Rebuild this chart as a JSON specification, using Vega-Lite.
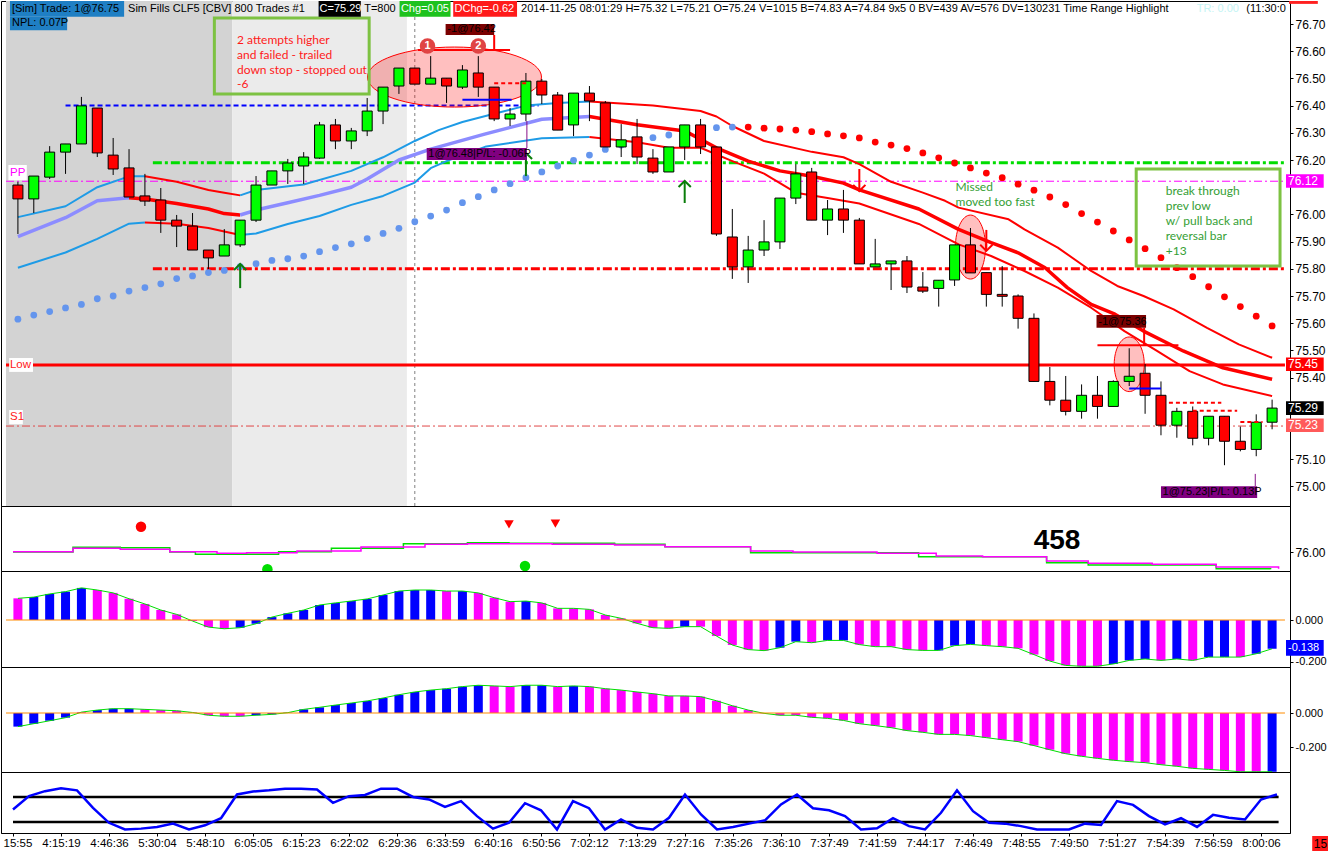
{
  "$schema": "https://vega.github.io/schema/vega-lite/v6.json",
  "background": "#ffffff",
  "padding": 0,
  "autosize": {"type": "pad"},
  "bounds": "flush",
  "spacing": 0,
  "config": {
    "view": {"stroke": "#000000", "strokeWidth": 1},
    "axis": {
      "grid": false,
      "title": null,
      "labelFont": "Liberation Sans",
      "labelFontSize": 11.5,
      "labelColor": "#000000",
      "tickColor": "#000000",
      "domainColor": "#000000",
      "tickSize": 3,
      "labelPadding": 2
    },
    "text": {"font": "Liberation Sans"}
  },
  "datasets": {
    "bars": [
      {"i":0,"o":76.108,"h":76.12,"l":75.928,"c":76.057},
      {"i":1,"o":76.057,"h":76.141,"l":76.005,"c":76.141},
      {"i":2,"o":76.137,"h":76.251,"l":76.13,"c":76.229},
      {"i":3,"o":76.229,"h":76.259,"l":76.149,"c":76.259},
      {"i":4,"o":76.259,"h":76.432,"l":76.259,"c":76.399},
      {"i":5,"o":76.391,"h":76.391,"l":76.211,"c":76.226},
      {"i":6,"o":76.218,"h":76.281,"l":76.145,"c":76.167},
      {"i":7,"o":76.171,"h":76.24,"l":76.064,"c":76.064},
      {"i":8,"o":76.068,"h":76.149,"l":76.031,"c":76.049},
      {"i":9,"o":76.053,"h":76.097,"l":75.932,"c":75.979},
      {"i":10,"o":75.979,"h":75.998,"l":75.88,"c":75.957},
      {"i":11,"o":75.957,"h":76.005,"l":75.869,"c":75.869},
      {"i":12,"o":75.869,"h":75.869,"l":75.799,"c":75.84},
      {"i":13,"o":75.847,"h":75.946,"l":75.847,"c":75.888},
      {"i":14,"o":75.888,"h":75.979,"l":75.88,"c":75.979},
      {"i":15,"o":75.979,"h":76.141,"l":75.972,"c":76.108},
      {"i":16,"o":76.108,"h":76.16,"l":76.108,"c":76.16},
      {"i":17,"o":76.16,"h":76.204,"l":76.112,"c":76.189},
      {"i":18,"o":76.178,"h":76.229,"l":76.112,"c":76.211},
      {"i":19,"o":76.207,"h":76.34,"l":76.204,"c":76.329},
      {"i":20,"o":76.329,"h":76.351,"l":76.24,"c":76.27},
      {"i":21,"o":76.27,"h":76.318,"l":76.24,"c":76.307},
      {"i":22,"o":76.307,"h":76.428,"l":76.288,"c":76.38},
      {"i":23,"o":76.38,"h":76.468,"l":76.332,"c":76.468},
      {"i":24,"o":76.472,"h":76.538,"l":76.443,"c":76.538},
      {"i":25,"o":76.538,"h":76.538,"l":76.479,"c":76.479},
      {"i":26,"o":76.479,"h":76.582,"l":76.479,"c":76.501},
      {"i":27,"o":76.501,"h":76.501,"l":76.41,"c":76.472},
      {"i":28,"o":76.468,"h":76.549,"l":76.461,"c":76.531},
      {"i":29,"o":76.52,"h":76.582,"l":76.432,"c":76.468},
      {"i":30,"o":76.468,"h":76.468,"l":76.343,"c":76.351},
      {"i":31,"o":76.351,"h":76.391,"l":76.325,"c":76.369},
      {"i":32,"o":76.369,"h":76.52,"l":76.343,"c":76.49},
      {"i":33,"o":76.49,"h":76.498,"l":76.406,"c":76.439},
      {"i":34,"o":76.439,"h":76.45,"l":76.31,"c":76.31},
      {"i":35,"o":76.329,"h":76.446,"l":76.288,"c":76.446},
      {"i":36,"o":76.446,"h":76.472,"l":76.343,"c":76.417},
      {"i":37,"o":76.41,"h":76.417,"l":76.248,"c":76.248},
      {"i":38,"o":76.248,"h":76.332,"l":76.211,"c":76.274},
      {"i":39,"o":76.285,"h":76.351,"l":76.185,"c":76.211},
      {"i":40,"o":76.207,"h":76.24,"l":76.149,"c":76.156},
      {"i":41,"o":76.156,"h":76.248,"l":76.156,"c":76.248},
      {"i":42,"o":76.248,"h":76.329,"l":76.2,"c":76.329},
      {"i":43,"o":76.329,"h":76.351,"l":76.222,"c":76.248},
      {"i":44,"o":76.248,"h":76.248,"l":75.921,"c":75.928},
      {"i":45,"o":75.917,"h":76.02,"l":75.763,"c":75.807},
      {"i":46,"o":75.807,"h":75.921,"l":75.748,"c":75.869},
      {"i":47,"o":75.869,"h":75.979,"l":75.847,"c":75.899},
      {"i":48,"o":75.899,"h":76.06,"l":75.873,"c":76.06},
      {"i":49,"o":76.06,"h":76.185,"l":76.038,"c":76.149},
      {"i":50,"o":76.156,"h":76.171,"l":75.979,"c":75.979},
      {"i":51,"o":75.979,"h":76.053,"l":75.924,"c":76.02},
      {"i":52,"o":76.02,"h":76.09,"l":75.932,"c":75.979},
      {"i":53,"o":75.979,"h":75.987,"l":75.818,"c":75.818},
      {"i":54,"o":75.807,"h":75.91,"l":75.807,"c":75.818},
      {"i":55,"o":75.818,"h":75.829,"l":75.722,"c":75.829},
      {"i":56,"o":75.829,"h":75.847,"l":75.711,"c":75.733},
      {"i":57,"o":75.733,"h":75.788,"l":75.711,"c":75.718},
      {"i":58,"o":75.728,"h":75.758,"l":75.661,"c":75.758},
      {"i":59,"o":75.759,"h":75.888,"l":75.737,"c":75.888},
      {"i":60,"o":75.888,"h":75.95,"l":75.785,"c":75.785},
      {"i":61,"o":75.786,"h":75.786,"l":75.661,"c":75.706},
      {"i":62,"o":75.706,"h":75.81,"l":75.661,"c":75.699},
      {"i":63,"o":75.7,"h":75.706,"l":75.58,"c":75.618},
      {"i":64,"o":75.618,"h":75.636,"l":75.386,"c":75.386},
      {"i":65,"o":75.386,"h":75.439,"l":75.298,"c":75.317},
      {"i":66,"o":75.317,"h":75.406,"l":75.261,"c":75.276},
      {"i":67,"o":75.276,"h":75.375,"l":75.249,"c":75.335},
      {"i":68,"o":75.335,"h":75.406,"l":75.249,"c":75.294},
      {"i":69,"o":75.294,"h":75.39,"l":75.294,"c":75.386},
      {"i":70,"o":75.386,"h":75.508,"l":75.369,"c":75.405},
      {"i":71,"o":75.416,"h":75.45,"l":75.267,"c":75.335},
      {"i":72,"o":75.335,"h":75.386,"l":75.188,"c":75.225},
      {"i":73,"o":75.225,"h":75.289,"l":75.179,"c":75.276},
      {"i":74,"o":75.276,"h":75.294,"l":75.151,"c":75.177},
      {"i":75,"o":75.177,"h":75.258,"l":75.151,"c":75.258},
      {"i":76,"o":75.258,"h":75.258,"l":75.078,"c":75.166},
      {"i":77,"o":75.166,"h":75.22,"l":75.129,"c":75.136},
      {"i":78,"o":75.136,"h":75.265,"l":75.111,"c":75.236},
      {"i":79,"o":75.236,"h":75.319,"l":75.21,"c":75.288}
    ],
    "bands": [
      {"seg":"U1","i":0,"v":75.99},{"seg":"U1","i":3,"v":76.03},{"seg":"U1","i":5,"v":76.1},{"seg":"U1","i":7,"v":76.14},{"seg":"U1","i":8,"v":76.14},
      {"seg":"U2","i":8,"v":76.14},{"seg":"U2","i":10,"v":76.12},{"seg":"U2","i":12,"v":76.09},{"seg":"U2","i":13,"v":76.08},{"seg":"U2","i":14,"v":76.07},
      {"seg":"U3","i":14,"v":76.07},{"seg":"U3","i":15,"v":76.09},{"seg":"U3","i":18,"v":76.11},{"seg":"U3","i":21,"v":76.16},{"seg":"U3","i":23,"v":76.21},{"seg":"U3","i":25,"v":76.27},{"seg":"U3","i":26.5,"v":76.31},{"seg":"U3","i":28,"v":76.34},{"seg":"U3","i":30,"v":76.37},{"seg":"U3","i":32,"v":76.4},{"seg":"U3","i":34,"v":76.41},{"seg":"U3","i":36,"v":76.415},
      {"seg":"U4","i":36,"v":76.415},{"seg":"U4","i":40,"v":76.4},{"seg":"U4","i":43,"v":76.38},{"seg":"U4","i":44,"v":76.36},{"seg":"U4","i":45,"v":76.325},{"seg":"U4","i":47,"v":76.27},{"seg":"U4","i":50,"v":76.23},{"seg":"U4","i":52,"v":76.21},{"seg":"U4","i":53,"v":76.185},{"seg":"U4","i":55,"v":76.12},{"seg":"U4","i":57,"v":76.08},{"seg":"U4","i":58.4,"v":76.05},{"seg":"U4","i":59.25,"v":76.025},{"seg":"U4","i":62.4,"v":75.982},{"seg":"U4","i":63.4,"v":75.945},{"seg":"U4","i":65.5,"v":75.878},{"seg":"U4","i":67.6,"v":75.792},{"seg":"U4","i":69.25,"v":75.737},{"seg":"U4","i":70.9,"v":75.7},{"seg":"U4","i":72.8,"v":75.651},{"seg":"U4","i":74.9,"v":75.583},{"seg":"U4","i":76.9,"v":75.522},{"seg":"U4","i":79,"v":75.473},
      {"seg":"M1","i":0,"v":75.918},{"seg":"M1","i":3,"v":75.988},{"seg":"M1","i":5,"v":76.05},{"seg":"M1","i":7,"v":76.061},
      {"seg":"M2","i":7,"v":76.061},{"seg":"M2","i":8,"v":76.057},{"seg":"M2","i":10,"v":76.04},{"seg":"M2","i":12,"v":76.02},{"seg":"M2","i":13,"v":76.003},{"seg":"M2","i":14,"v":75.998},
      {"seg":"M3","i":14,"v":75.998},{"seg":"M3","i":15,"v":76.016},{"seg":"M3","i":17,"v":76.043},{"seg":"M3","i":19,"v":76.07},{"seg":"M3","i":21,"v":76.1},{"seg":"M3","i":22,"v":76.13},{"seg":"M3","i":24,"v":76.2},{"seg":"M3","i":26,"v":76.24},{"seg":"M3","i":29.4,"v":76.295},{"seg":"M3","i":33,"v":76.35},{"seg":"M3","i":36,"v":76.36},
      {"seg":"M4","i":36,"v":76.36},{"seg":"M4","i":39,"v":76.33},{"seg":"M4","i":42,"v":76.307},{"seg":"M4","i":44,"v":76.245},{"seg":"M4","i":46,"v":76.196},{"seg":"M4","i":48,"v":76.16},{"seg":"M4","i":50,"v":76.14},{"seg":"M4","i":52,"v":76.115},{"seg":"M4","i":53,"v":76.09},{"seg":"M4","i":56.75,"v":76.02},{"seg":"M4","i":59.25,"v":75.945},{"seg":"M4","i":61.3,"v":75.896},{"seg":"M4","i":63,"v":75.859},{"seg":"M4","i":64.7,"v":75.804},{"seg":"M4","i":66.1,"v":75.731},{"seg":"M4","i":67.6,"v":75.669},{"seg":"M4","i":69.1,"v":75.633},{"seg":"M4","i":70.9,"v":75.571},{"seg":"M4","i":73.4,"v":75.498},{"seg":"M4","i":75.9,"v":75.436},{"seg":"M4","i":79,"v":75.394},
      {"seg":"L1","i":0,"v":75.804},{"seg":"L1","i":3,"v":75.86},{"seg":"L1","i":5,"v":75.91},{"seg":"L1","i":7,"v":75.966},{"seg":"L1","i":8,"v":75.97},
      {"seg":"L2","i":8,"v":75.97},{"seg":"L2","i":10,"v":75.966},{"seg":"L2","i":12,"v":75.95},{"seg":"L2","i":14,"v":75.924},
      {"seg":"L3","i":14,"v":75.924},{"seg":"L3","i":15,"v":75.93},{"seg":"L3","i":17,"v":75.965},{"seg":"L3","i":19,"v":75.994},{"seg":"L3","i":21,"v":76.035},{"seg":"L3","i":23,"v":76.068},{"seg":"L3","i":25,"v":76.117},{"seg":"L3","i":26,"v":76.17},{"seg":"L3","i":27,"v":76.196},{"seg":"L3","i":29.5,"v":76.25},{"seg":"L3","i":33,"v":76.28},{"seg":"L3","i":36,"v":76.285},
      {"seg":"L4","i":36,"v":76.285},{"seg":"L4","i":39,"v":76.265},{"seg":"L4","i":41,"v":76.245},{"seg":"L4","i":43,"v":76.245},{"seg":"L4","i":45,"v":76.196},{"seg":"L4","i":47,"v":76.15},{"seg":"L4","i":49,"v":76.08},{"seg":"L4","i":51,"v":76.06},{"seg":"L4","i":53,"v":76.04},{"seg":"L4","i":56.75,"v":75.965},{"seg":"L4","i":59.25,"v":75.89},{"seg":"L4","i":61.3,"v":75.847},{"seg":"L4","i":63.4,"v":75.792},{"seg":"L4","i":65.5,"v":75.731},{"seg":"L4","i":67.6,"v":75.657},{"seg":"L4","i":69.7,"v":75.571},{"seg":"L4","i":71.75,"v":75.498},{"seg":"L4","i":73.8,"v":75.424},{"seg":"L4","i":75.9,"v":75.375},{"seg":"L4","i":79,"v":75.332}
    ],
    "sar": [
      {"i":0,"v":75.615,"side":"long"},{"i":1,"v":75.63,"side":"long"},{"i":2,"v":75.643,"side":"long"},{"i":3,"v":75.656,"side":"long"},{"i":4,"v":75.669,"side":"long"},{"i":5,"v":75.69,"side":"long"},{"i":6,"v":75.7,"side":"long"},{"i":7,"v":75.718,"side":"long"},{"i":8,"v":75.731,"side":"long"},{"i":9,"v":75.745,"side":"long"},
      {"i":10,"v":75.764,"side":"long"},{"i":11,"v":75.774,"side":"long"},{"i":12,"v":75.786,"side":"long"},{"i":13,"v":75.794,"side":"long"},{"i":14,"v":75.808,"side":"long"},{"i":15,"v":75.819,"side":"long"},{"i":16,"v":75.831,"side":"long"},{"i":17,"v":75.837,"side":"long"},{"i":18,"v":75.847,"side":"long"},{"i":19,"v":75.863,"side":"long"},
      {"i":20,"v":75.878,"side":"long"},{"i":21,"v":75.892,"side":"long"},{"i":22,"v":75.911,"side":"long"},{"i":23,"v":75.93,"side":"long"},{"i":24,"v":75.949,"side":"long"},{"i":25,"v":75.973,"side":"long"},{"i":26,"v":75.994,"side":"long"},{"i":27,"v":76.016,"side":"long"},{"i":28,"v":76.043,"side":"long"},{"i":29,"v":76.065,"side":"long"},
      {"i":30,"v":76.09,"side":"long"},{"i":31,"v":76.113,"side":"long"},{"i":32,"v":76.135,"side":"long"},{"i":33,"v":76.156,"side":"long"},{"i":34,"v":76.178,"side":"long"},{"i":35,"v":76.199,"side":"long"},{"i":36,"v":76.218,"side":"long"},{"i":37,"v":76.239,"side":"long"},{"i":38,"v":76.255,"side":"long"},{"i":39,"v":76.267,"side":"long"},
      {"i":40,"v":76.282,"side":"long"},{"i":41,"v":76.292,"side":"long"},{"i":42,"v":76.307,"side":"long"},{"i":43,"v":76.317,"side":"long"},{"i":44,"v":76.319,"side":"long"},{"i":45,"v":76.321,"side":"long"},
      {"i":46,"v":76.321,"side":"short"},{"i":47,"v":76.317,"side":"short"},{"i":48,"v":76.314,"side":"short"},{"i":49,"v":76.31,"side":"short"},{"i":50,"v":76.304,"side":"short"},{"i":51,"v":76.296,"side":"short"},{"i":52,"v":76.289,"side":"short"},{"i":53,"v":76.281,"side":"short"},{"i":54,"v":76.266,"side":"short"},{"i":55,"v":76.255,"side":"short"},
      {"i":56,"v":76.242,"side":"short"},{"i":57,"v":76.226,"side":"short"},{"i":58,"v":76.208,"side":"short"},{"i":59,"v":76.189,"side":"short"},{"i":60,"v":76.171,"side":"short"},{"i":61,"v":76.152,"side":"short"},{"i":62,"v":76.135,"side":"short"},{"i":63,"v":76.111,"side":"short"},{"i":64,"v":76.089,"side":"short"},{"i":65,"v":76.064,"side":"short"},
      {"i":66,"v":76.036,"side":"short"},{"i":67,"v":76.003,"side":"short"},{"i":68,"v":75.972,"side":"short"},{"i":69,"v":75.939,"side":"short"},{"i":70,"v":75.906,"side":"short"},{"i":71,"v":75.874,"side":"short"},{"i":72,"v":75.841,"side":"short"},{"i":73,"v":75.804,"side":"short"},{"i":74,"v":75.771,"side":"short"},{"i":75,"v":75.734,"side":"short"},
      {"i":76,"v":75.697,"side":"short"},{"i":77,"v":75.661,"side":"short"},{"i":78,"v":75.626,"side":"short"},{"i":79,"v":75.59,"side":"short"}
    ],
    "ma": [
      {"ma":"slow","i":0,"v":76.0},{"ma":"slow","i":3.75,"v":76.047},{"ma":"slow","i":6.7,"v":76.043},{"ma":"slow","i":9.8,"v":76.0},{"ma":"slow","i":11.4,"v":75.977},{"ma":"slow","i":13.8,"v":75.977},{"ma":"slow","i":16.6,"v":76.003},{"ma":"slow","i":19.9,"v":76.037},{"ma":"slow","i":24.4,"v":76.083},{"ma":"slow","i":28.4,"v":76.093},{"ma":"slow","i":31,"v":76.087},{"ma":"slow","i":37.6,"v":76.077},{"ma":"slow","i":40.75,"v":76.053},{"ma":"slow","i":46.1,"v":75.993},{"ma":"slow","i":56.6,"v":75.953},{"ma":"slow","i":64.6,"v":75.893},{"ma":"slow","i":67.2,"v":75.87},{"ma":"slow","i":75.2,"v":75.833},{"ma":"slow","i":78.6,"v":75.827},
      {"ma":"fast","i":0,"v":76.003},{"ma":"fast","i":3.75,"v":76.037},{"ma":"fast","i":6.7,"v":76.027},{"ma":"fast","i":9.8,"v":76.003},{"ma":"fast","i":12.75,"v":75.987},{"ma":"fast","i":14.6,"v":75.993},{"ma":"fast","i":17.75,"v":76.01},{"ma":"fast","i":21.75,"v":76.05},{"ma":"fast","i":25.75,"v":76.077},{"ma":"fast","i":28.4,"v":76.083},{"ma":"fast","i":31,"v":76.083},{"ma":"fast","i":33.7,"v":76.077},{"ma":"fast","i":37.6,"v":76.07},{"ma":"fast","i":40.75,"v":76.053},{"ma":"fast","i":43.4,"v":76.053},{"ma":"fast","i":46.1,"v":76.01},{"ma":"fast","i":48.75,"v":76.0},{"ma":"fast","i":51.3,"v":76.0},{"ma":"fast","i":54,"v":75.987},{"ma":"fast","i":57.7,"v":75.96},{"ma":"fast","i":60.6,"v":75.953},{"ma":"fast","i":64.6,"v":75.91},{"ma":"fast","i":67.2,"v":75.887},{"ma":"fast","i":71.2,"v":75.877},{"ma":"fast","i":75.2,"v":75.85},{"ma":"fast","i":79.1,"v":75.833}
    ],
    "h3": [
      {"i":0,"v":0.104,"grp":"dn"},{"i":1,"v":0.11,"grp":"up"},{"i":2,"v":0.125,"grp":"up"},{"i":3,"v":0.136,"grp":"up"},{"i":4,"v":0.154,"grp":"up"},{"i":5,"v":0.144,"grp":"dn"},{"i":6,"v":0.13,"grp":"dn"},{"i":7,"v":0.102,"grp":"dn"},{"i":8,"v":0.077,"grp":"dn"},{"i":9,"v":0.048,"grp":"dn"},
      {"i":10,"v":0.027,"grp":"dn"},{"i":11,"v":-0.005,"grp":"dn"},{"i":12,"v":-0.034,"grp":"dn"},{"i":13,"v":-0.042,"grp":"dn"},{"i":14,"v":-0.037,"grp":"up"},{"i":15,"v":-0.018,"grp":"up"},{"i":16,"v":0.014,"grp":"up"},{"i":17,"v":0.032,"grp":"up"},{"i":18,"v":0.048,"grp":"up"},{"i":19,"v":0.072,"grp":"up"},
      {"i":20,"v":0.082,"grp":"up"},{"i":21,"v":0.091,"grp":"up"},{"i":22,"v":0.101,"grp":"up"},{"i":23,"v":0.12,"grp":"up"},{"i":24,"v":0.139,"grp":"up"},{"i":25,"v":0.144,"grp":"up"},{"i":26,"v":0.144,"grp":"up"},{"i":27,"v":0.139,"grp":"dn"},{"i":28,"v":0.139,"grp":"up"},{"i":29,"v":0.13,"grp":"dn"},
      {"i":30,"v":0.107,"grp":"dn"},{"i":31,"v":0.088,"grp":"dn"},{"i":32,"v":0.091,"grp":"up"},{"i":33,"v":0.082,"grp":"dn"},{"i":34,"v":0.056,"grp":"dn"},{"i":35,"v":0.056,"grp":"dn"},{"i":36,"v":0.051,"grp":"dn"},{"i":37,"v":0.024,"grp":"dn"},{"i":38,"v":0.008,"grp":"dn"},{"i":39,"v":-0.016,"grp":"dn"},
      {"i":40,"v":-0.037,"grp":"dn"},{"i":41,"v":-0.04,"grp":"dn"},{"i":42,"v":-0.032,"grp":"up"},{"i":43,"v":-0.032,"grp":"dn"},{"i":44,"v":-0.077,"grp":"dn"},{"i":45,"v":-0.12,"grp":"dn"},{"i":46,"v":-0.142,"grp":"dn"},{"i":47,"v":-0.147,"grp":"dn"},{"i":48,"v":-0.133,"grp":"up"},{"i":49,"v":-0.104,"grp":"up"},
      {"i":50,"v":-0.109,"grp":"dn"},{"i":51,"v":-0.098,"grp":"up"},{"i":52,"v":-0.098,"grp":"up"},{"i":53,"v":-0.118,"grp":"dn"},{"i":54,"v":-0.128,"grp":"dn"},{"i":55,"v":-0.128,"grp":"dn"},{"i":56,"v":-0.142,"grp":"dn"},{"i":57,"v":-0.146,"grp":"dn"},{"i":58,"v":-0.146,"grp":"up"},{"i":59,"v":-0.123,"grp":"up"},
      {"i":60,"v":-0.117,"grp":"up"},{"i":61,"v":-0.123,"grp":"dn"},{"i":62,"v":-0.128,"grp":"dn"},{"i":63,"v":-0.136,"grp":"dn"},{"i":64,"v":-0.166,"grp":"dn"},{"i":65,"v":-0.197,"grp":"dn"},{"i":66,"v":-0.218,"grp":"dn"},{"i":67,"v":-0.222,"grp":"dn"},{"i":68,"v":-0.222,"grp":"dn"},{"i":69,"v":-0.211,"grp":"up"},
      {"i":70,"v":-0.194,"grp":"up"},{"i":71,"v":-0.187,"grp":"up"},{"i":72,"v":-0.194,"grp":"dn"},{"i":73,"v":-0.187,"grp":"up"},{"i":74,"v":-0.194,"grp":"dn"},{"i":75,"v":-0.178,"grp":"up"},{"i":76,"v":-0.178,"grp":"up"},{"i":77,"v":-0.178,"grp":"dn"},{"i":78,"v":-0.162,"grp":"up"},{"i":79,"v":-0.138,"grp":"up"}
    ],
    "h4": [
      {"i":0,"v":-0.079,"grp":"up"},{"i":1,"v":-0.062,"grp":"up"},{"i":2,"v":-0.045,"grp":"up"},{"i":3,"v":-0.027,"grp":"up"},{"i":4,"v":0.005,"grp":"dn"},{"i":5,"v":0.017,"grp":"up"},{"i":6,"v":0.025,"grp":"up"},{"i":7,"v":0.025,"grp":"up"},{"i":8,"v":0.021,"grp":"dn"},{"i":9,"v":0.017,"grp":"dn"},
      {"i":10,"v":0.013,"grp":"dn"},{"i":11,"v":0.003,"grp":"dn"},{"i":12,"v":-0.013,"grp":"dn"},{"i":13,"v":-0.019,"grp":"dn"},{"i":14,"v":-0.019,"grp":"dn"},{"i":15,"v":-0.013,"grp":"up"},{"i":16,"v":-0.008,"grp":"up"},{"i":17,"v":0.002,"grp":"up"},{"i":18,"v":0.021,"grp":"up"},{"i":19,"v":0.033,"grp":"up"},
      {"i":20,"v":0.046,"grp":"up"},{"i":21,"v":0.058,"grp":"up"},{"i":22,"v":0.07,"grp":"up"},{"i":23,"v":0.087,"grp":"up"},{"i":24,"v":0.106,"grp":"up"},{"i":25,"v":0.122,"grp":"up"},{"i":26,"v":0.133,"grp":"up"},{"i":27,"v":0.141,"grp":"up"},{"i":28,"v":0.153,"grp":"up"},{"i":29,"v":0.161,"grp":"up"},
      {"i":30,"v":0.157,"grp":"dn"},{"i":31,"v":0.153,"grp":"dn"},{"i":32,"v":0.161,"grp":"up"},{"i":33,"v":0.161,"grp":"up"},{"i":34,"v":0.153,"grp":"dn"},{"i":35,"v":0.157,"grp":"up"},{"i":36,"v":0.153,"grp":"dn"},{"i":37,"v":0.141,"grp":"dn"},{"i":38,"v":0.133,"grp":"dn"},{"i":39,"v":0.122,"grp":"dn"},
      {"i":40,"v":0.112,"grp":"dn"},{"i":41,"v":0.099,"grp":"dn"},{"i":42,"v":0.099,"grp":"dn"},{"i":43,"v":0.095,"grp":"dn"},{"i":44,"v":0.071,"grp":"dn"},{"i":45,"v":0.042,"grp":"dn"},{"i":46,"v":0.017,"grp":"dn"},{"i":47,"v":-0.002,"grp":"dn"},{"i":48,"v":-0.013,"grp":"dn"},{"i":49,"v":-0.013,"grp":"dn"},
      {"i":50,"v":-0.025,"grp":"dn"},{"i":51,"v":-0.031,"grp":"dn"},{"i":52,"v":-0.043,"grp":"dn"},{"i":53,"v":-0.062,"grp":"dn"},{"i":54,"v":-0.073,"grp":"dn"},{"i":55,"v":-0.085,"grp":"dn"},{"i":56,"v":-0.102,"grp":"dn"},{"i":57,"v":-0.112,"grp":"dn"},{"i":58,"v":-0.124,"grp":"dn"},{"i":59,"v":-0.124,"grp":"dn"},
      {"i":60,"v":-0.131,"grp":"dn"},{"i":61,"v":-0.143,"grp":"dn"},{"i":62,"v":-0.155,"grp":"dn"},{"i":63,"v":-0.166,"grp":"dn"},{"i":64,"v":-0.189,"grp":"dn"},{"i":65,"v":-0.213,"grp":"dn"},{"i":66,"v":-0.236,"grp":"dn"},{"i":67,"v":-0.251,"grp":"dn"},{"i":68,"v":-0.263,"grp":"dn"},{"i":69,"v":-0.274,"grp":"dn"},
      {"i":70,"v":-0.282,"grp":"dn"},{"i":71,"v":-0.288,"grp":"dn"},{"i":72,"v":-0.3,"grp":"dn"},{"i":73,"v":-0.309,"grp":"dn"},{"i":74,"v":-0.321,"grp":"dn"},{"i":75,"v":-0.327,"grp":"dn"},{"i":76,"v":-0.333,"grp":"dn"},{"i":77,"v":-0.341,"grp":"dn"},{"i":78,"v":-0.341,"grp":"dn"},{"i":79,"v":-0.341,"grp":"up"}
    ],
    "st": [
      {"i":0,"v":50},{"i":1,"v":82},{"i":2,"v":94},{"i":3,"v":101},{"i":4,"v":96},{"i":5,"v":54},{"i":6,"v":18},{"i":7,"v":2},{"i":8,"v":4},{"i":9,"v":8},
      {"i":10,"v":16},{"i":11,"v":2},{"i":12,"v":12},{"i":13,"v":29},{"i":14,"v":86},{"i":15,"v":93},{"i":16,"v":96},{"i":17,"v":100},{"i":18,"v":100},{"i":19,"v":98},
      {"i":20,"v":66},{"i":21,"v":82},{"i":22,"v":85},{"i":23,"v":100},{"i":24,"v":100},{"i":25,"v":80},{"i":26,"v":74},{"i":27,"v":56},{"i":28,"v":70},{"i":29,"v":34},
      {"i":30,"v":4},{"i":31,"v":18},{"i":32,"v":65},{"i":33,"v":48},{"i":34,"v":2},{"i":35,"v":70},{"i":36,"v":53},{"i":37,"v":2},{"i":38,"v":26},{"i":39,"v":6},
      {"i":40,"v":2},{"i":41,"v":30},{"i":42,"v":86},{"i":43,"v":38},{"i":44,"v":2},{"i":45,"v":8},{"i":46,"v":16},{"i":47,"v":24},{"i":48,"v":62},{"i":49,"v":86},
      {"i":50,"v":53},{"i":51,"v":48},{"i":52,"v":34},{"i":53,"v":2},{"i":54,"v":5},{"i":55,"v":29},{"i":56,"v":10},{"i":57,"v":2},{"i":58,"v":42},{"i":59,"v":96},
      {"i":60,"v":46},{"i":61,"v":18},{"i":62,"v":16},{"i":63,"v":10},{"i":64,"v":2},{"i":65,"v":2},{"i":66,"v":2},{"i":67,"v":16},{"i":68,"v":13},{"i":69,"v":70},
      {"i":70,"v":61},{"i":71,"v":34},{"i":72,"v":14},{"i":73,"v":29},{"i":74,"v":8},{"i":75,"v":37},{"i":76,"v":30},{"i":77,"v":26},{"i":78,"v":74},{"i":79,"v":86}
    ]
  },
  "vconcat": [
    {
      "width": 1289,
      "height": 505,
      "resolve": {"scale": {"color": "independent", "strokeDash": "independent", "shape": "independent"}},
      "encoding": {
        "x": {"field": "i", "type": "quantitative", "scale": {"domain": [-0.75, 79.8125], "nice": false, "zero": false}, "axis": null},
        "y": {"field": "v", "type": "quantitative", "scale": {"domain": [74.928, 76.7846], "nice": false, "zero": false},
          "axis": {"orient": "right", "format": ".2f", "labelFontSize": 12, "values": [75.0, 75.1, 75.4, 75.5, 75.6, 75.7, 75.8, 75.9, 76.0, 76.2, 76.3, 76.4, 76.5, 76.6, 76.7]}}
      },
      "layer": [
        {
          "data": {"values": [
            {"zone": "pre", "i": -0.75, "i2": 13.5, "v": 74.928, "v2": 76.7846},
            {"zone": "open", "i": 13.5, "i2": 24.5, "v": 74.928, "v2": 76.7846}
          ]},
          "mark": {"type": "rect"},
          "encoding": {
            "x2": {"field": "i2"},
            "y2": {"field": "v2"},
            "color": {"field": "zone", "type": "nominal", "scale": {"domain": ["pre", "open"], "range": ["#d3d3d3", "#ebebeb"]}, "legend": null}
          }
        },
        {
          "data": {"values": [{"i": 25, "v": 74.928, "v2": 76.7846}]},
          "mark": {"type": "rule", "color": "#808080", "strokeDash": [3, 3], "strokeWidth": 1},
          "encoding": {"y2": {"field": "v2"}}
        },
        {
          "data": {"values": [
            {"lvl": "entry", "i": 3, "i2": 32.8, "v": 76.4},
            {"lvl": "r1", "i": 8.5, "i2": 79.81, "v": 76.19},
            {"lvl": "pp", "i": -0.75, "i2": 79.81, "v": 76.122},
            {"lvl": "s1a", "i": 8.5, "i2": 79.81, "v": 75.8},
            {"lvl": "low", "i": -0.75, "i2": 79.81, "v": 75.446},
            {"lvl": "s1", "i": -0.75, "i2": 79.81, "v": 75.222}
          ]},
          "mark": {"type": "rule"},
          "encoding": {
            "x2": {"field": "i2"},
            "color": {"field": "lvl", "type": "nominal", "legend": null,
              "scale": {"domain": ["entry", "r1", "pp", "s1a", "low", "s1"], "range": ["#0000ff", "#00dd00", "#ff00ff", "#ff0000", "#ff0000", "#e04848"]}},
            "strokeDash": {"field": "lvl", "type": "nominal", "legend": null,
              "scale": {"domain": ["entry", "r1", "pp", "s1a", "low", "s1"], "range": [[5, 3], [9, 3, 3, 3], [8, 3, 2, 3], [9, 3, 3, 3], [1, 0], [8, 3, 2, 3]]}},
            "strokeWidth": {"condition": [{"test": "datum.lvl == 'pp' || datum.lvl == 's1'", "value": 1}, {"test": "datum.lvl == 'entry'", "value": 2}], "value": 3}
          }
        },
        {
          "data": {"name": "bands"},
          "mark": {"type": "line", "strokeJoin": "round"},
          "encoding": {
            "color": {"field": "seg", "type": "nominal", "legend": null,
              "scale": {"domain": ["U1", "U2", "U3", "U4", "M1", "M2", "M3", "M4", "L1", "L2", "L3", "L4"],
                "range": ["#1e9be6", "#ff0000", "#1e9be6", "#ff0000", "#8c8cff", "#ff0000", "#8c8cff", "#ff0000", "#1e9be6", "#ff0000", "#1e9be6", "#ff0000"]}},
            "strokeWidth": {"condition": {"test": "indexof(datum.seg, 'M') == 0", "value": 3.5}, "value": 2}
          }
        },
        {
          "data": {"name": "sar"},
          "mark": {"type": "point", "filled": true, "size": 46, "opacity": 1},
          "encoding": {
            "color": {"field": "side", "type": "nominal", "legend": null, "scale": {"domain": ["long", "short"], "range": ["#6495ed", "#ff0000"]}}
          }
        },
        {
          "data": {"values": [{"i": 27.5, "v": 76.505}]},
          "mark": {"type": "point", "shape": "M-1,0A1,0.345,0,1,1,1,0A1,0.345,0,1,1,-1,0Z", "size": 30276, "filled": true, "fill": "#ff0000", "fillOpacity": 0.25, "stroke": "#ff0000", "strokeWidth": 1, "opacity": 1}
        },
        {
          "data": {"values": [{"i": 60, "v": 75.88}]},
          "mark": {"type": "point", "shape": "M0,-1A0.47,1,0,1,1,0,1A0.47,1,0,1,1,0,-1Z", "size": 4096, "filled": true, "fill": "#ff0000", "fillOpacity": 0.25, "stroke": "#ff0000", "strokeWidth": 1, "opacity": 1}
        },
        {
          "data": {"values": [{"i": 70, "v": 75.449}]},
          "mark": {"type": "point", "shape": "M0,-1A0.55,1,0,1,1,0,1A0.55,1,0,1,1,0,-1Z", "size": 2981, "filled": true, "fill": "#ff0000", "fillOpacity": 0.25, "stroke": "#ff0000", "strokeWidth": 1, "opacity": 1}
        },
        {
          "data": {"name": "bars"},
          "mark": {"type": "rule", "color": "#000000", "strokeWidth": 1},
          "encoding": {
            "y": {"field": "l", "type": "quantitative"},
            "y2": {"field": "h"}
          }
        },
        {
          "data": {"name": "bars"},
          "mark": {"type": "bar", "width": 10, "stroke": "#000000", "strokeWidth": 1},
          "encoding": {
            "y": {"field": "o", "type": "quantitative"},
            "y2": {"field": "c"},
            "fill": {"condition": {"test": "datum.c >= datum.o", "value": "#00ff00"}, "value": "#ff0000"}
          }
        },
        {
          "data": {"values": [
            {"kind": "stop", "i": 25.2, "i2": 31, "v": 76.604, "v2": 76.604},
            {"kind": "stop", "i": 30, "i2": 30, "v": 76.66, "v2": 76.604},
            {"kind": "target", "i": 28, "i2": 31.1, "v": 76.422, "v2": 76.422},
            {"kind": "trail", "i": 30, "i2": 32.2, "v": 76.482, "v2": 76.482},
            {"kind": "fill", "i": 32.06, "i2": 32.06, "v": 76.343, "v2": 76.244},
            {"kind": "stop", "i": 68, "i2": 73.1, "v": 75.519, "v2": 75.519},
            {"kind": "stop", "i": 70.94, "i2": 70.94, "v": 75.583, "v2": 75.519},
            {"kind": "target", "i": 70, "i2": 72, "v": 75.36, "v2": 75.36},
            {"kind": "trail", "i": 72.5, "i2": 75.8, "v": 75.308, "v2": 75.308},
            {"kind": "trail", "i": 74, "i2": 76.8, "v": 75.278, "v2": 75.278},
            {"kind": "trail", "i": 77, "i2": 78.4, "v": 75.237, "v2": 75.237},
            {"kind": "fill", "i": 77.94, "i2": 77.94, "v": 75.046, "v2": 75.001}
          ]},
          "mark": {"type": "rule"},
          "encoding": {
            "x2": {"field": "i2"},
            "y2": {"field": "v2"},
            "color": {"field": "kind", "type": "nominal", "legend": null, "scale": {"domain": ["stop", "target", "trail", "fill"], "range": ["#ff0000", "#0000ff", "#ff0000", "#800080"]}},
            "strokeDash": {"field": "kind", "type": "nominal", "legend": null, "scale": {"domain": ["stop", "target", "trail", "fill"], "range": [[1, 0], [1, 0], [4, 3], [1, 0]]}},
            "strokeWidth": {"condition": {"test": "datum.kind == 'fill'", "value": 1}, "value": 2}
          }
        },
        {
          "data": {"values": [
            {"i": 12.375, "i2": 22.125, "v": 76.722, "v2": 76.443},
            {"i": 70.44, "i2": 79.5, "v": 76.167, "v2": 75.81}
          ]},
          "mark": {"type": "rect", "fill": "#ffffff", "fillOpacity": 0, "stroke": "#7dc242", "strokeWidth": 3},
          "encoding": {"x2": {"field": "i2"}, "y2": {"field": "v2"}}
        },
        {
          "data": {"values": [
            {"note": "loss", "i": 13.8, "v": 76.641, "text": "2 attempts higher"},
            {"note": "loss", "i": 13.8, "v": 76.586, "text": "and failed - trailed"},
            {"note": "loss", "i": 13.8, "v": 76.531, "text": "down stop - stopped out"},
            {"note": "loss", "i": 13.8, "v": 76.479, "text": "-6"},
            {"note": "win", "i": 72.3, "v": 76.086, "text": "break through"},
            {"note": "win", "i": 72.3, "v": 76.031, "text": "prev low"},
            {"note": "win", "i": 72.3, "v": 75.976, "text": "w/ pull back and"},
            {"note": "win", "i": 72.3, "v": 75.921, "text": "reversal bar"},
            {"note": "win", "i": 72.3, "v": 75.865, "text": "+13"},
            {"note": "win", "i": 59.06, "v": 76.102, "text": "Missed"},
            {"note": "win", "i": 59.06, "v": 76.047, "text": "moved too fast"}
          ]},
          "mark": {"type": "text", "align": "left", "baseline": "middle", "font": "Lato", "fontSize": 12},
          "encoding": {
            "text": {"field": "text"},
            "color": {"field": "note", "type": "nominal", "legend": null, "scale": {"domain": ["loss", "win"], "range": ["#ff1a1a", "#35a035"]}}
          }
        },
        {
          "data": {"values": [
            {"dir": "up", "i": 14, "v": 75.729, "v2": 75.818},
            {"dir": "up", "i": 32, "v": 76.141, "v2": 76.226},
            {"dir": "up", "i": 42, "v": 76.042, "v2": 76.123},
            {"dir": "down", "i": 53, "v": 76.167, "v2": 76.086},
            {"dir": "down", "i": 61, "v": 75.943, "v2": 75.866}
          ]},
          "mark": {"type": "rule", "strokeWidth": 2},
          "encoding": {
            "y2": {"field": "v2"},
            "color": {"field": "dir", "type": "nominal", "legend": null, "scale": {"domain": ["up", "down"], "range": ["#0a7d0a", "#ff0000"]}}
          }
        },
        {
          "data": {"values": [
            {"dir": "up", "i": 14, "v": 75.818},
            {"dir": "up", "i": 32, "v": 76.226},
            {"dir": "up", "i": 42, "v": 76.123},
            {"dir": "down", "i": 53, "v": 76.086},
            {"dir": "down", "i": 61, "v": 75.866}
          ]},
          "mark": {"type": "point", "filled": false, "size": 150, "strokeWidth": 2, "opacity": 1},
          "encoding": {
            "shape": {"field": "dir", "type": "nominal", "legend": null, "scale": {"domain": ["up", "down"], "range": ["M-1,1L0,0L1,1", "M-1,-1L0,0L1,-1"]}},
            "color": {"field": "dir", "type": "nominal", "legend": null, "scale": {"domain": ["up", "down"], "range": ["#0a7d0a", "#ff0000"]}}
          }
        },
        {
          "data": {"values": [
            {"tag": "exit", "i": 26.94, "i2": 30, "v": 76.7, "v2": 76.66},
            {"tag": "entry", "i": 25.75, "i2": 32.06, "v": 76.244, "v2": 76.2},
            {"tag": "exit", "i": 67.94, "i2": 71.06, "v": 75.63, "v2": 75.583},
            {"tag": "entry", "i": 72, "i2": 78.06, "v": 75.001, "v2": 74.957}
          ]},
          "mark": {"type": "rect"},
          "encoding": {
            "x2": {"field": "i2"},
            "y2": {"field": "v2"},
            "color": {"field": "tag", "type": "nominal", "legend": null, "scale": {"domain": ["exit", "entry"], "range": ["#7a0000", "#800080"]}}
          }
        },
        {
          "data": {"values": [
            {"i": 27.05, "v": 76.68, "text": "-1@76.42"},
            {"i": 25.85, "v": 76.222, "text": "1@76.48|P/L: -0.06P"},
            {"i": 68.05, "v": 75.606, "text": "-1@75.36"},
            {"i": 72.1, "v": 74.979, "text": "1@75.23|P/L: 0.13P"}
          ]},
          "mark": {"type": "text", "align": "left", "baseline": "middle", "fontSize": 11, "color": "#000000"},
          "encoding": {"text": {"field": "text"}}
        },
        {
          "data": {"values": [{"i": 25.8, "v": 76.619, "n": "1"}, {"i": 29, "v": 76.619, "n": "2"}]},
          "mark": {"type": "point", "filled": true, "size": 240, "color": "#e04444", "opacity": 1}
        },
        {
          "data": {"values": [{"i": 25.8, "v": 76.619, "n": "1"}, {"i": 29, "v": 76.619, "n": "2"}]},
          "mark": {"type": "text", "align": "center", "baseline": "middle", "fontSize": 11, "fontWeight": "bold", "color": "#ffffff"},
          "encoding": {"text": {"field": "n"}}
        },
        {
          "data": {"values": [
            {"lab": "PP", "i": -0.6, "i2": 0.56, "v": 76.182, "v2": 76.126},
            {"lab": "Low", "i": -0.55, "i2": 0.95, "v": 75.472, "v2": 75.421},
            {"lab": "S1", "i": -0.55, "i2": 0.31, "v": 75.281, "v2": 75.229}
          ]},
          "mark": {"type": "rect", "color": "#ffffff"},
          "encoding": {"x2": {"field": "i2"}, "y2": {"field": "v2"}}
        },
        {
          "data": {"values": [
            {"lab": "PP", "i": -0.5, "v": 76.153, "text": "PP"},
            {"lab": "Low", "i": -0.5, "v": 75.446, "text": "Low"},
            {"lab": "S1", "i": -0.5, "v": 75.255, "text": "S1"}
          ]},
          "mark": {"type": "text", "align": "left", "baseline": "middle", "fontSize": 11.5},
          "encoding": {
            "text": {"field": "text"},
            "color": {"field": "lab", "type": "nominal", "legend": null, "scale": {"domain": ["PP", "Low", "S1"], "range": ["#ff00ff", "#ff2020", "#ff2020"]}}
          }
        },
        {
          "data": {"values": [
            {"hb": "blue", "i": -0.5, "i2": 6.69, "v": 76.7846, "v2": 76.7265},
            {"hb": "blue", "i": -0.5, "i2": 3.1, "v": 76.7265, "v2": 76.677},
            {"hb": "black", "i": 18.94, "i2": 21.6, "v": 76.7846, "v2": 76.7265},
            {"hb": "green", "i": 24.04, "i2": 27.25, "v": 76.7846, "v2": 76.7265},
            {"hb": "red", "i": 27.42, "i2": 31.44, "v": 76.7846, "v2": 76.7265}
          ]},
          "mark": {"type": "rect"},
          "encoding": {
            "x2": {"field": "i2"},
            "y2": {"field": "v2"},
            "color": {"field": "hb", "type": "nominal", "legend": null, "scale": {"domain": ["blue", "black", "green", "red"], "range": ["#1f7fc4", "#000000", "#1ec21e", "#ff1a1a"]}}
          }
        },
        {
          "data": {"values": [
            {"tone": "dark", "i": -0.375, "v": 76.755, "text": "[Sim]  Trade: 1@76.75"},
            {"tone": "dark", "i": 6.94, "v": 76.755, "text": "Sim Fills  CLF5 [CBV]  800 Trades  #1"},
            {"tone": "light", "i": 19.0, "v": 76.755, "text": "C=75.29"},
            {"tone": "dark", "i": 21.81, "v": 76.755, "text": "T=800"},
            {"tone": "light", "i": 24.125, "v": 76.755, "text": "Chg=0.05"},
            {"tone": "light", "i": 27.5, "v": 76.755, "text": "DChg=-0.62"},
            {"tone": "dark", "i": 31.69, "v": 76.755, "text": "2014-11-25 08:01:29 H=75.32 L=75.21 O=75.24 V=1015 B=74.83 A=74.84 9x5 0 BV=439 AV=576 DV=130231  Time Range Highlight"},
            {"tone": "cyan", "i": 74.25, "v": 76.755, "text": "TR: 0.00"},
            {"tone": "dark", "i": 77.375, "v": 76.755, "text": "(11:30:0"},
            {"tone": "dark", "i": -0.375, "v": 76.702, "text": "NPL: 0.07P"}
          ]},
          "mark": {"type": "text", "align": "left", "baseline": "middle", "fontSize": 11, "clip": true},
          "encoding": {
            "text": {"field": "text"},
            "color": {"field": "tone", "type": "nominal", "legend": null, "scale": {"domain": ["dark", "light", "cyan"], "range": ["#000000", "#ffffff", "#c4f4f4"]}}
          }
        },
        {
          "data": {"values": [
            {"tag": "top", "i": 80.07, "i2": 81.88, "v": 76.7846, "v2": 76.774},
            {"tag": "pp", "i": 79.875, "i2": 82.25, "v": 76.148, "v2": 76.098},
            {"tag": "low", "i": 79.875, "i2": 82.25, "v": 75.474, "v2": 75.424},
            {"tag": "last", "i": 79.875, "i2": 82.25, "v": 75.313, "v2": 75.263},
            {"tag": "s1", "i": 79.875, "i2": 82.25, "v": 75.25, "v2": 75.2}
          ]},
          "mark": {"type": "rect"},
          "encoding": {
            "x2": {"field": "i2"},
            "y2": {"field": "v2"},
            "color": {"field": "tag", "type": "nominal", "legend": null, "scale": {"domain": ["top", "pp", "low", "last", "s1"], "range": ["#ff2020", "#ff00ff", "#ff0000", "#000000", "#ff5a5a"]}}
          }
        },
        {
          "data": {"values": [
            {"i": 80.0, "v": 76.123, "text": "76.12"},
            {"i": 80.0, "v": 75.449, "text": "75.45"},
            {"i": 80.0, "v": 75.288, "text": "75.29"},
            {"i": 80.0, "v": 75.225, "text": "75.23"}
          ]},
          "mark": {"type": "text", "align": "left", "baseline": "middle", "fontSize": 12, "color": "#ffffff"},
          "encoding": {"text": {"field": "text"}}
        }
      ]
    },
    {
      "width": 1289,
      "height": 65,
      "resolve": {"scale": {"color": "independent"}},
      "encoding": {
        "x": {"field": "i", "type": "quantitative", "scale": {"domain": [-0.75, 79.8125], "nice": false, "zero": false}, "axis": null},
        "y": {"field": "v", "type": "quantitative", "scale": {"domain": [75.81, 76.46], "nice": false, "zero": false},
          "axis": {"orient": "right", "format": ".2f", "labelFontSize": 12, "values": [76.0]}}
      },
      "layer": [
        {
          "data": {"name": "ma"},
          "mark": {"type": "line", "strokeWidth": 1.5, "interpolate": "step-after"},
          "encoding": {
            "color": {"field": "ma", "type": "nominal", "legend": null, "scale": {"domain": ["slow", "fast"], "range": ["#00dd00", "#ff00ff"]}}
          }
        },
        {
          "data": {"values": [
            {"sig": "sell", "i": 8, "v": 76.253},
            {"sig": "buy", "i": 15.9, "v": 75.827},
            {"sig": "buy", "i": 32, "v": 75.86}
          ]},
          "mark": {"type": "point", "filled": true, "size": 110, "opacity": 1, "clip": true},
          "encoding": {
            "color": {"field": "sig", "type": "nominal", "legend": null, "scale": {"domain": ["sell", "buy"], "range": ["#ff0000", "#00dd00"]}}
          }
        },
        {
          "data": {"values": [{"i": 31, "v": 76.277}, {"i": 33.9, "v": 76.283}]},
          "mark": {"type": "point", "shape": "triangle-down", "filled": true, "size": 90, "color": "#ff0000", "opacity": 1}
        },
        {
          "data": {"values": [{"i": 65.25, "v": 76.11, "text": "458"}]},
          "mark": {"type": "text", "align": "center", "baseline": "middle", "fontSize": 28, "fontWeight": "bold", "color": "#000000"},
          "encoding": {"text": {"field": "text"}}
        }
      ]
    },
    {
      "width": 1289,
      "height": 96,
      "resolve": {"scale": {"color": "independent"}},
      "encoding": {
        "x": {"field": "i", "type": "quantitative", "scale": {"domain": [-0.75, 79.8125], "nice": false, "zero": false}, "axis": null},
        "y": {"field": "v", "type": "quantitative", "scale": {"domain": [-0.2256, 0.2352], "nice": false, "zero": false},
          "axis": {"orient": "right", "values": [0, -0.2], "labelFontSize": 11, "labelExpr": "datum.value < 0 ? '-0.200' : '0.000'"}}
      },
      "layer": [
        {
          "data": {"name": "h3"},
          "mark": {"type": "bar", "width": 9},
          "encoding": {
            "y2": {"datum": 0},
            "color": {"field": "grp", "type": "nominal", "legend": null, "scale": {"domain": ["up", "dn"], "range": ["#0000ff", "#ff00ff"]}}
          }
        },
        {
          "data": {"name": "h3"},
          "mark": {"type": "line", "color": "#00dd00", "strokeWidth": 1}
        },
        {
          "data": {"values": [{"i": -0.75, "i2": 79.81, "v": 0}]},
          "mark": {"type": "rule", "color": "#ff8c00", "strokeWidth": 1},
          "encoding": {"x2": {"field": "i2"}}
        },
        {
          "data": {"values": [{"i": 79.875, "i2": 82.25, "v": -0.096, "v2": -0.171}]},
          "mark": {"type": "rect", "color": "#0000ff"},
          "encoding": {"x2": {"field": "i2"}, "y2": {"field": "v2"}}
        },
        {
          "data": {"values": [{"i": 80.0, "v": -0.134, "text": "-0.138"}]},
          "mark": {"type": "text", "align": "left", "baseline": "middle", "fontSize": 11, "color": "#ffffff"},
          "encoding": {"text": {"field": "text"}}
        }
      ]
    },
    {
      "width": 1289,
      "height": 105,
      "resolve": {"scale": {"color": "independent"}},
      "encoding": {
        "x": {"field": "i", "type": "quantitative", "scale": {"domain": [-0.75, 79.8125], "nice": false, "zero": false}, "axis": null},
        "y": {"field": "v", "type": "quantitative", "scale": {"domain": [-0.3422, 0.2668], "nice": false, "zero": false},
          "axis": {"orient": "right", "values": [0, -0.2], "labelFontSize": 11, "labelExpr": "datum.value < 0 ? '-0.200' : '0.000'"}}
      },
      "layer": [
        {
          "data": {"name": "h4"},
          "mark": {"type": "bar", "width": 9},
          "encoding": {
            "y2": {"datum": 0},
            "color": {"field": "grp", "type": "nominal", "legend": null, "scale": {"domain": ["up", "dn"], "range": ["#0000ff", "#ff00ff"]}}
          }
        },
        {
          "data": {"name": "h4"},
          "mark": {"type": "line", "color": "#00dd00", "strokeWidth": 1}
        },
        {
          "data": {"values": [{"i": -0.75, "i2": 79.81, "v": 0}]},
          "mark": {"type": "rule", "color": "#ff8c00", "strokeWidth": 1},
          "encoding": {"x2": {"field": "i2"}}
        }
      ]
    },
    {
      "width": 1289,
      "height": 61,
      "encoding": {
        "x": {"field": "i", "type": "quantitative", "scale": {"domain": [-0.75, 79.8125], "nice": false, "zero": false},
          "axis": {"orient": "bottom", "values": [0, 3, 6, 9, 12, 15, 18, 21, 24, 27, 30, 33, 36, 39, 42, 45, 48, 51, 54, 57, 60, 63, 66, 69, 72, 75, 78],
            "labelFlush": 13, "labelFlushOffset": 10, "labelPadding": 1, "labelFontSize": 11.5,
            "labelExpr": "['15:55','4:15:19','4:46:36','5:30:04','5:48:10','6:05:05','6:15:23','6:22:02','6:29:36','6:33:59','6:40:16','6:50:56','7:02:12','7:13:29','7:27:16','7:35:26','7:36:10','7:37:49','7:41:59','7:44:17','7:46:49','7:48:55','7:49:50','7:51:27','7:54:39','7:56:59','8:00:06'][round(datum.value / 3)]"}},
        "y": {"field": "v", "type": "quantitative", "scale": {"domain": [-6.5, 140], "nice": false, "zero": false}, "axis": null}
      },
      "layer": [
        {
          "data": {"values": [{"i": 0, "i2": 79.1, "v": 80}, {"i": 0, "i2": 79.1, "v": 20}]},
          "mark": {"type": "rule", "color": "#000000", "strokeWidth": 2.5},
          "encoding": {"x2": {"field": "i2"}}
        },
        {
          "data": {"name": "st"},
          "mark": {"type": "line", "color": "#0000ff", "strokeWidth": 2.5}
        },
        {
          "data": {"values": [{"i": 81.2, "i2": 82.25, "v": -13.7, "v2": -52}]},
          "mark": {"type": "rect", "color": "#ff1a1a"},
          "encoding": {"x2": {"field": "i2"}, "y2": {"field": "v2"}}
        },
        {
          "data": {"values": [{"i": 81.72, "v": -33, "text": "15"}]},
          "mark": {"type": "text", "align": "center", "baseline": "middle", "fontSize": 12, "color": "#000000"},
          "encoding": {"text": {"field": "text"}}
        }
      ]
    }
  ]
}
